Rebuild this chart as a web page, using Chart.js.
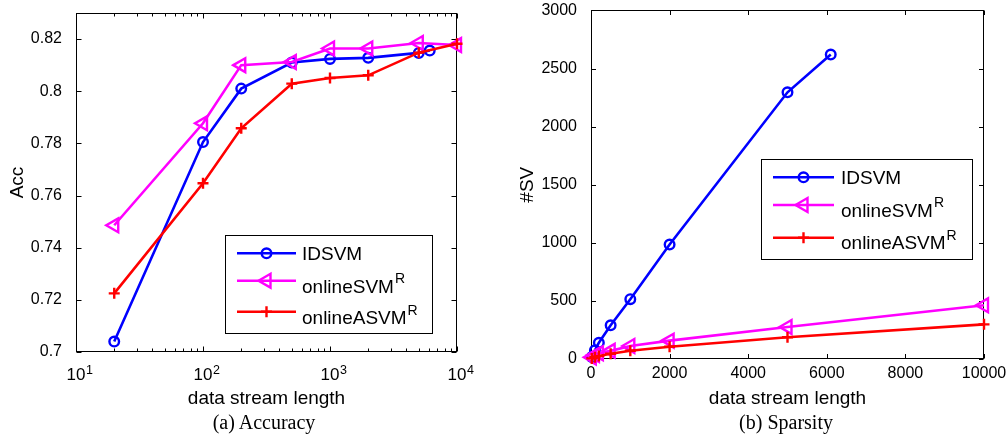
<!DOCTYPE html>
<html><head><meta charset="utf-8">
<script src="https://cdn.jsdelivr.net/npm/chart.js@4.4.1/dist/chart.umd.min.js"></script>
<style>
html,body{margin:0;padding:0;background:#fff;}
#wrap{position:relative;width:1008px;height:435px;overflow:hidden;background:#fff;}
.box{position:absolute;top:0;width:504px;height:435px;}
.cap{position:absolute;font-family:"Liberation Serif","Times New Roman",serif;font-size:20px;color:#000;white-space:nowrap;transform:translateX(-50%);top:410px;line-height:24px;}
</style></head><body>
<div id="wrap">
<div class="box" style="left:0"><canvas id="c1" width="504" height="435"></canvas></div>
<div class="box" style="left:504px"><canvas id="c2" width="504" height="435"></canvas></div>
<div class="cap" style="left:264px">(a) Accuracy</div>
<div class="cap" style="left:786px">(b) Sparsity</div>
</div>
<script>
// ---------- data ----------
const seriesNames = ['IDSVM', 'onlineSVM', 'onlineASVM'];
const seriesSup = ['', 'R', 'R'];

const idsvmLen = [20, 100, 200, 500, 1000, 2000, 5000, 6100];
const idsvmAcc = [0.704, 0.7805, 0.801, 0.811, 0.8124, 0.8128, 0.8147, 0.8156];
const idsvmSV  = [18, 75, 140, 290, 515, 985, 2295, 2620];

const svmLen = [20, 100, 200, 500, 1000, 2000, 5000, 10000];
const svmAcc = [0.7486, 0.7877, 0.8100, 0.8112, 0.8164, 0.8164, 0.8185, 0.8177];
const svmSV  = [14, 35, 50, 70, 112, 158, 276, 462];

const asvmLen = [20, 100, 200, 500, 1000, 2000, 5000, 10000];
const asvmAcc = [0.7225, 0.7647, 0.7858, 0.8029, 0.8051, 0.8061, 0.8148, 0.8182];
const asvmSV  = [5, 15, 25, 45, 71, 106, 187, 298];

const accXTicks = [10, 100, 1000, 10000];
const accXLabelBase = '10';
const accXLabelExp = ['1', '2', '3', '4'];
const accXMinor = [20,30,40,50,60,70,80,90,200,300,400,500,600,700,800,900,2000,3000,4000,5000,6000,7000,8000,9000];
const accYTicks = [0.7, 0.72, 0.74, 0.76, 0.78, 0.8, 0.82];
const accYLabels = ['0.7', '0.72', '0.74', '0.76', '0.78', '0.8', '0.82'];

const svXTicks = [0, 2000, 4000, 6000, 8000, 10000];
const svXLabels = ['0', '2000', '4000', '6000', '8000', '10000'];
const svYTicks = [0, 500, 1000, 1500, 2000, 2500, 3000];
const svYLabels = ['0', '500', '1000', '1500', '2000', '2500', '3000'];

// ---------- styling ----------
const FONT = '"Liberation Sans", Arial, Helvetica, sans-serif';
const COLORS = ['#0000ff', '#ff00ff', '#ff0000'];
const STYLES = [
  {pointStyle: 'circle', pointRadius: 4.8, rot: 0},
  {pointStyle: 'triangle', pointRadius: 8, rot: -90},
  {pointStyle: 'cross', pointRadius: 5.5, rot: 0}
];
const LW = 2.6;

function pts(xs, ys) { return xs.map((x, i) => ({x: x, y: ys[i]})); }

function makeDatasets(ysets, xsets) {
  return ysets.map((ys, i) => ({
    label: seriesNames[i],
    data: pts(xsets[i], ys),
    borderColor: COLORS[i],
    backgroundColor: 'rgba(0,0,0,0)',
    borderWidth: LW,
    pointStyle: STYLES[i].pointStyle,
    pointRadius: STYLES[i].pointRadius,
    pointRotation: STYLES[i].rot,
    pointBorderWidth: 2.4,
    pointBorderColor: COLORS[i],
    pointBackgroundColor: 'rgba(0,0,0,0)',
    pointHoverRadius: STYLES[i].pointRadius,
    tension: 0,
    clip: false,
    order: 3 - i
  }));
}

function drawMarker(ctx, style, x, y, r, rot) {
  ctx.beginPath();
  if (style === 'circle') {
    ctx.arc(x, y, r, 0, Math.PI * 2);
  } else if (style === 'triangle') {
    let a = rot * Math.PI / 180;
    for (let k = 0; k < 3; k++) {
      const px = x + Math.sin(a) * r, py = y - Math.cos(a) * r;
      if (k === 0) ctx.moveTo(px, py); else ctx.lineTo(px, py);
      a += 2 * Math.PI / 3;
    }
    ctx.closePath();
  } else {
    ctx.moveTo(x - r, y); ctx.lineTo(x + r, y);
    ctx.moveTo(x, y - r); ctx.lineTo(x, y + r);
  }
  ctx.stroke();
}

// box + inward ticks, like a MATLAB axes
const framePlugin = {
  id: 'frame',
  beforeDatasetsDraw(chart, args, o) {
    const ctx = chart.ctx, a = chart.chartArea, xs = chart.scales.x, ys = chart.scales.y;
    ctx.save();
    ctx.strokeStyle = '#000';
    ctx.lineWidth = 1;
    const L = Math.round(a.left) + 0.5, R = Math.round(a.right) - 0.5;
    const T = Math.round(a.top) + 0.5, B = Math.round(a.bottom) - 0.5;
    ctx.strokeRect(L, T, R - L, B - T);
    ctx.beginPath();
    const xt = (v, len) => {
      const p = Math.round(xs.getPixelForValue(v)) + 0.5;
      ctx.moveTo(p, B); ctx.lineTo(p, B - len);
      ctx.moveTo(p, T); ctx.lineTo(p, T + len);
    };
    const yt = (v, len) => {
      const p = Math.round(ys.getPixelForValue(v)) + 0.5;
      ctx.moveTo(L, p); ctx.lineTo(L + len, p);
      ctx.moveTo(R, p); ctx.lineTo(R - len, p);
    };
    xs.ticks.forEach(t => xt(t.value, o.major));
    ys.ticks.forEach(t => yt(t.value, o.major));
    (o.minorX || []).forEach(v => xt(v, o.minor));
    ctx.stroke();

    // power-of-ten tick labels with a real superscript
    if (o.powLabels) {
      const p = o.powLabels;
      ctx.fillStyle = '#000';
      ctx.textBaseline = 'alphabetic';
      xs.ticks.forEach((t, i) => {
        const px = xs.getPixelForValue(t.value);
        ctx.font = p.fs + 'px ' + FONT;
        const w = ctx.measureText(p.base).width;
        ctx.textAlign = 'center';
        ctx.fillText(p.base, px, p.baseY);
        ctx.font = p.supFs + 'px ' + FONT;
        ctx.textAlign = 'left';
        ctx.fillText(p.exps[i], px + w / 2 + 0.5, p.baseY - p.rise);
      });
    }
    ctx.restore();
  }
};

// MATLAB-style legend box
const legendPlugin = {
  id: 'mlegend',
  afterDatasetsDraw(chart, args, o) {
    const ctx = chart.ctx;
    ctx.save();
    ctx.fillStyle = '#fff';
    ctx.fillRect(o.x, o.y, o.w, o.h);
    ctx.strokeStyle = '#000';
    ctx.lineWidth = 1;
    ctx.strokeRect(o.x + 0.5, o.y + 0.5, o.w, o.h);
    chart.data.datasets.forEach((ds, i) => {
      const ly = o.lineY[i];
      ctx.strokeStyle = ds.borderColor;
      ctx.lineWidth = ds.borderWidth;
      ctx.beginPath();
      ctx.moveTo(o.lx0, ly); ctx.lineTo(o.lx1, ly);
      ctx.stroke();
      ctx.lineWidth = ds.pointBorderWidth;
      drawMarker(ctx, ds.pointStyle, (o.lx0 + o.lx1) / 2, ly, ds.pointRadius, ds.pointRotation);
      ctx.fillStyle = '#000';
      ctx.textBaseline = 'alphabetic';
      ctx.textAlign = 'left';
      ctx.font = o.fs + 'px ' + FONT;
      ctx.fillText(seriesNames[i], o.tx, o.baseY[i]);
      if (seriesSup[i]) {
        const w = ctx.measureText(seriesNames[i]).width;
        ctx.font = o.supFs + 'px ' + FONT;
        ctx.fillText(seriesSup[i], o.tx + w + 1, o.baseY[i] - o.supRise);
      }
    });
    ctx.restore();
  }
};

function axisCommon(extra) {
  return Object.assign({
    grid: {display: false},
    border: {display: false},
  }, extra);
}

// ---------- (a) Accuracy ----------
new Chart(document.getElementById('c1'), {
  type: 'line',
  data: {datasets: makeDatasets([idsvmAcc, svmAcc, asvmAcc], [idsvmLen, svmLen, asvmLen])},
  options: {
    responsive: false, animation: false, devicePixelRatio: 1,
    layout: {padding: {top: 13, right: 47, left: 0, bottom: 0}},
    plugins: {
      legend: {display: false}, tooltip: {enabled: false},
      frame: {major: 5, minor: 3, minorX: accXMinor,
              powLabels: {base: accXLabelBase, exps: accXLabelExp, fs: 17, supFs: 12.5, baseY: 380, rise: 6.5}},
      mlegend: {x: 225, y: 235, w: 207, h: 98, lx0: 237, lx1: 296, tx: 302,
                lineY: [253.3, 280.7, 311.7], baseY: [259.5, 292.7, 324], fs: 19, supFs: 14, supRise: 9.5}
    },
    scales: {
      x: axisCommon({
        type: 'logarithmic', min: 10, max: 10000,
        afterBuildTicks: s => { s.ticks = accXTicks.map(v => ({value: v})); },
        afterFit: s => { s.height = 83; s.paddingLeft = 0; s.paddingRight = 0; },
        ticks: {autoSkip: false, maxRotation: 0, padding: 6, color: '#000',
                font: {family: FONT, size: 16}, callback: () => ''},
        title: {display: true, text: 'data stream length', color: '#000',
                font: {family: FONT, size: 19}, padding: {top: 0, bottom: 25}}
      }),
      y: axisCommon({
        type: 'linear', min: 0.7, max: 0.83,
        afterBuildTicks: s => { s.ticks = accYTicks.map(v => ({value: v})); },
        afterFit: s => { s.width = 76; s.paddingTop = 0; s.paddingBottom = 0; },
        ticks: {padding: 6, color: '#000', font: {family: FONT, size: 16},
                callback: (v, i) => accYLabels[i]},
        title: {display: true, text: 'Acc', color: '#000',
                font: {family: FONT, size: 19}, padding: {top: 6, bottom: 0}}
      })
    }
  },
  plugins: [framePlugin, legendPlugin]
});

// ---------- (b) Sparsity ----------
new Chart(document.getElementById('c2'), {
  type: 'line',
  data: {datasets: makeDatasets([idsvmSV, svmSV, asvmSV], [idsvmLen, svmLen, asvmLen])},
  options: {
    responsive: false, animation: false, devicePixelRatio: 1,
    layout: {padding: {top: 10, right: 24, left: 0, bottom: 0}},
    plugins: {
      legend: {display: false}, tooltip: {enabled: false},
      frame: {major: 4.5, minor: 0, minorX: []},
      mlegend: {x: 257, y: 159, w: 211, h: 100, lx0: 269, lx1: 330, tx: 337,
                lineY: [177.3, 205, 237.7], baseY: [184.3, 216.7, 249.3], fs: 19, supFs: 14, supRise: 9.5}
    },
    scales: {
      x: axisCommon({
        type: 'linear', min: 0, max: 10000,
        afterBuildTicks: s => { s.ticks = svXTicks.map(v => ({value: v})); },
        afterFit: s => { s.height = 76; s.paddingLeft = 0; s.paddingRight = 0; },
        ticks: {autoSkip: false, maxRotation: 0, padding: -3.5, color: '#000',
                font: {family: FONT, size: 16}, callback: (v, i) => svXLabels[i]},
        title: {display: true, text: 'data stream length', color: '#000',
                font: {family: FONT, size: 19}, padding: {top: 0, bottom: 25}}
      }),
      y: axisCommon({
        type: 'linear', min: 0, max: 3000,
        afterBuildTicks: s => { s.ticks = svYTicks.map(v => ({value: v})); },
        afterFit: s => { s.width = 87; s.paddingTop = 0; s.paddingBottom = 0; },
        ticks: {padding: 6, color: '#000', font: {family: FONT, size: 16},
                callback: (v, i) => svYLabels[i]},
        title: {display: true, text: '#SV', color: '#000',
                font: {family: FONT, size: 19}, padding: {top: 12, bottom: 0}}
      })
    }
  },
  plugins: [framePlugin, legendPlugin]
});
</script>
</body></html>
